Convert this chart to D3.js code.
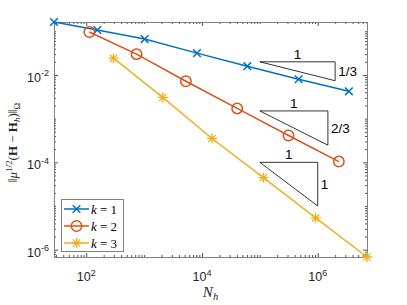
<!DOCTYPE html>
<html>
<head>
<meta charset="utf-8">
<script src="https://cdn.jsdelivr.net/npm/d3@7"></script>
<style>
body { margin: 0; background: #fff; }
svg { display: block; font-family: "Liberation Sans", Arial, sans-serif; }
.axis path { display: none; }
.axis line { stroke: #262626; stroke-width: 0.8; }
</style>
</head>
<body>
<div id="chart"></div>
<script>
// number of unknowns and error, one pair per polynomial degree k
var nK1 = [27.7, 155, 1021, 8190, 60700, 468000, 3.46e6];
var errK1 = [0.163, 0.107, 0.0662, 0.0316, 0.0159, 0.00797, 0.00422];
var nK2 = [113, 741, 5270, 40600, 313000, 2.32e6];
var errK2 = [0.0960, 0.0299, 0.00717, 0.00171, 4.11e-4, 1.04e-4];
var nK3 = [295, 2100, 14900, 115000, 923000, 7.11e6];
var errK3 = [0.0242, 0.00307, 3.51e-4, 4.45e-5, 5.36e-6, 6.8e-7];
var seriesNames = ["1", "2", "3"];

var xTicks = [1e2, 1e4, 1e6], xTickExp = ["2", "4", "6"];
var yTicks = [1e-6, 1e-4, 1e-2], yTickExp = ["-6", "-4", "-2"];

// slope triangles
var triX0 = [1e5, 1e5, 1e5];
var triX1 = [2e6, 1.5e6, 1e6];
var triY0 = [2e-2, 1.5e-3, 1e-4];
var triSlope = [1/3, 2/3, 1];
var triLabels = ["1/3", "2/3", "1"];

var width = 407, height = 305;
var mLeft = 54, mTop = 22, mRight = 367, mBottom = 257;
var colors = ["#0072BD", "#D95319", "#EDB120"];
var markers = ["x", "o", "*"];

var series = [
    {name: seriesNames[0], n: nK1, e: errK1},
    {name: seriesNames[1], n: nK2, e: errK2},
    {name: seriesNames[2], n: nK3, e: errK3}
];

var allN = nK1.concat(nK2, nK3), allE = errK1.concat(errK2, errK3);

var x = d3.scaleLog().domain(d3.extent(allN)).range([mLeft, mRight]);
var y = d3.scaleLog().domain(d3.extent(allE)).range([mBottom, mTop]);

var svg = d3.select("#chart").append("svg")
    .attr("width", width)
    .attr("height", height);

// ticks, inward on all four sides
function isMajor(list, v) {
    return list.some(function(t){ return Math.abs(Math.log10(t) - Math.log10(v)) < 1e-6; });
}
var xMinor = x.ticks().filter(function(v){ return !isMajor(xTicks, v); });
var yMinor = y.ticks().filter(function(v){ return !isMajor(yTicks, v); });

function addAxis(axis, tx, ty) {
    svg.append("g").attr("class", "axis")
        .attr("transform", "translate(" + tx + "," + ty + ")")
        .call(axis.tickFormat(""));
}
addAxis(d3.axisBottom(x).tickValues(xMinor).tickSize(-2), 0, mBottom);
addAxis(d3.axisBottom(x).tickValues(xTicks).tickSize(-4), 0, mBottom);
addAxis(d3.axisTop(x).tickValues(xMinor).tickSize(-2), 0, mTop);
addAxis(d3.axisTop(x).tickValues(xTicks).tickSize(-4), 0, mTop);
addAxis(d3.axisLeft(y).tickValues(yMinor).tickSize(-2), mLeft, 0);
addAxis(d3.axisLeft(y).tickValues(yTicks).tickSize(-4), mLeft, 0);
addAxis(d3.axisRight(y).tickValues(yMinor).tickSize(-2), mRight, 0);
addAxis(d3.axisRight(y).tickValues(yTicks).tickSize(-4), mRight, 0);

svg.append("rect")
    .attr("x", mLeft + 0.5).attr("y", mTop + 0.5)
    .attr("width", mRight - mLeft).attr("height", mBottom - mTop)
    .attr("fill", "none")
    .attr("stroke", "#808080")
    .attr("stroke-width", 1);

// tick labels
var xl = svg.selectAll(".xlab").data(xTicks).enter().append("text")
    .attr("class", "xlab")
    .attr("x", function(d){ return x(d); })
    .attr("y", 281)
    .attr("text-anchor", "middle")
    .attr("font-size", 12.5)
    .attr("fill", "#262626");
xl.append("tspan").text("10");
xl.append("tspan").attr("dy", -5.5).attr("font-size", 9).text(function(d, i){ return xTickExp[i]; });

var yl = svg.selectAll(".ylab").data(yTicks).enter().append("text")
    .attr("class", "ylab")
    .attr("x", 49)
    .attr("y", function(d){ return y(d) + 7; })
    .attr("text-anchor", "end")
    .attr("font-size", 12.5)
    .attr("fill", "#262626");
yl.append("tspan").text("10");
yl.append("tspan").attr("dy", -5.5).attr("font-size", 9).text(function(d, i){ return yTickExp[i]; });

// axis titles
var serif = "'Liberation Serif', 'Times New Roman', serif";
var xt = svg.append("text")
    .attr("x", (mLeft + mRight) / 2)
    .attr("y", 297)
    .attr("text-anchor", "middle")
    .attr("font-family", serif)
    .attr("font-size", 15)
    .attr("fill", "#262626");
xt.append("tspan").attr("font-style", "italic").text("N");
xt.append("tspan").attr("font-style", "italic").attr("font-size", 10.5).attr("dy", 3).text("h");

var yt = svg.append("text")
    .attr("transform", "translate(17," + ((mTop + mBottom) / 2 + 3) + ") rotate(-90)")
    .attr("text-anchor", "middle")
    .attr("font-family", serif)
    .attr("font-size", 13)
    .attr("fill", "#262626");
yt.append("tspan").text("\u2016");
yt.append("tspan").attr("font-style", "italic").text("\u03bc");
yt.append("tspan").attr("font-size", 9).attr("dy", -5).text("1/2");
yt.append("tspan").attr("dy", 5).text("(");
yt.append("tspan").attr("font-weight", "bold").text("H");
yt.append("tspan").text(" \u2212 ");
yt.append("tspan").attr("font-weight", "bold").text("H");
yt.append("tspan").attr("font-style", "italic").attr("font-size", 9).attr("dy", 3).text("h");
yt.append("tspan").attr("dy", -3).text(")\u2016");
yt.append("tspan").attr("font-size", 9).attr("dy", 3).text("\u03a9");

// slope triangles
triX0.forEach(function(x0, i) {
    var x1 = triX1[i], y0 = triY0[i];
    var y1 = y0 * Math.pow(x1 / x0, -triSlope[i]);
    svg.append("path")
        .attr("d", "M" + x(x0) + "," + y(y0) + "L" + x(x1) + "," + y(y0) + "L" + x(x1) + "," + y(y1) + "Z")
        .attr("fill", "none")
        .attr("stroke", "#000")
        .attr("stroke-width", 0.8);
    svg.append("text")
        .attr("x", (x(x0) + x(x1)) / 2)
        .attr("y", y(y0) - 3)
        .attr("text-anchor", "middle")
        .attr("font-size", 13.5)
        .text("1");
    svg.append("text")
        .attr("x", x(x1) + 3)
        .attr("y", (y(y0) + y(y1)) / 2 + 5)
        .attr("font-size", 13.5)
        .text(triLabels[i]);
});

// markers
function drawMarker(g, type, cx, cy, color) {
    if (type == "o") {
        g.append("circle").attr("cx", cx).attr("cy", cy).attr("r", 5.2)
            .attr("fill", "none").attr("stroke", color).attr("stroke-width", 1.5);
    } else if (type == "x") {
        var s = 3.8;
        g.append("path")
            .attr("d", "M" + (cx - s) + "," + (cy - s) + "L" + (cx + s) + "," + (cy + s) +
                       "M" + (cx - s) + "," + (cy + s) + "L" + (cx + s) + "," + (cy - s))
            .attr("stroke", color).attr("stroke-width", 1.5);
    } else {
        var r = 5, d = 3.6;
        g.append("path")
            .attr("d", "M" + (cx - r) + "," + cy + "L" + (cx + r) + "," + cy +
                       "M" + cx + "," + (cy - r) + "L" + cx + "," + (cy + r) +
                       "M" + (cx - d) + "," + (cy - d) + "L" + (cx + d) + "," + (cy + d) +
                       "M" + (cx - d) + "," + (cy + d) + "L" + (cx + d) + "," + (cy - d))
            .attr("stroke", color).attr("stroke-width", 1.3);
    }
}

var line = d3.line()
    .x(function(d){ return x(d[0]); })
    .y(function(d){ return y(d[1]); });

series.forEach(function(s, i) {
    var pts = s.n.map(function(v, j){ return [v, s.e[j]]; });
    var g = svg.append("g");
    g.append("path")
        .attr("d", line(pts))
        .attr("fill", "none")
        .attr("stroke", colors[i])
        .attr("stroke-width", 1.5);
    pts.forEach(function(p) {
        drawMarker(g, markers[i], x(p[0]), y(p[1]), colors[i]);
    });
});

// legend
var lg = svg.append("g");
lg.append("rect")
    .attr("x", 61.5).attr("y", 199.5)
    .attr("width", 62).attr("height", 52)
    .attr("fill", "#fff")
    .attr("stroke", "#808080");
series.forEach(function(s, i) {
    var ly = 209 + i * 17;
    lg.append("line")
        .attr("x1", 64).attr("x2", 89)
        .attr("y1", ly).attr("y2", ly)
        .attr("stroke", colors[i]).attr("stroke-width", 1.5);
    drawMarker(lg, markers[i], 76.5, ly, colors[i]);
    var t = lg.append("text")
        .attr("x", 91).attr("y", ly + 4.5)
        .attr("font-family", serif)
        .attr("font-size", 13);
    t.append("tspan").attr("font-style", "italic").text("k");
    t.append("tspan").text(" = " + s.name);
});
</script>
</body>
</html>
